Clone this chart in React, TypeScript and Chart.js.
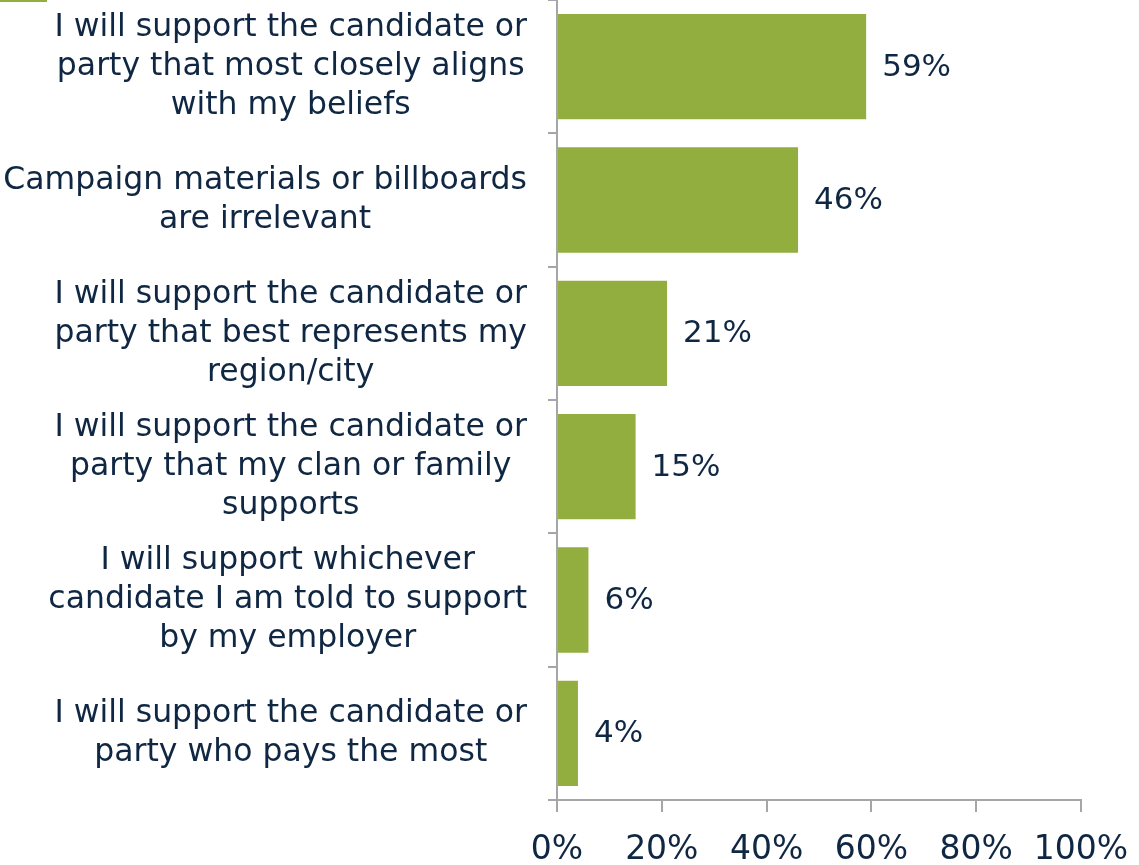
import React, { useEffect, useRef } from "react";
import { Chart, registerables } from "chart.js";

Chart.register(...registerables);

const categories: string[][] = [
  ["I will support the candidate or", "party that most closely aligns", "with my beliefs"],
  ["Campaign materials or billboards", "are irrelevant"],
  ["I will support the candidate or", "party that best represents my", "region/city"],
  ["I will support the candidate or", "party that my clan or family", "supports"],
  ["I will support whichever", "candidate I am told to support", "by my employer"],
  ["I will support the candidate or", "party who pays the most"],
];
const values: number[] = [59, 46, 21, 15, 6, 4];
const xTicks: number[] = [0, 20, 40, 60, 80, 100];

const BAR = "#92AE3F";
const TEXT = "#0F2742";
const AXIS = "#A6A6A6";
const FONT = "'DejaVu Sans', sans-serif";

const labelPlugin = {
  id: "customLabels",
  afterDraw(chart: any) {
    const ctx = chart.ctx;
    const yScale = chart.scales.y;
    const meta = chart.getDatasetMeta(0);
    ctx.save();
    // legend swatch remnant
    ctx.fillStyle = BAR;
    ctx.fillRect(0, 0, 47, 2);
    // category labels
    ctx.font = `31.5px ${FONT}`;
    ctx.fillStyle = TEXT;
    ctx.textAlign = "center";
    ctx.textBaseline = "middle";
    const rightEdge = 527;
    const lh = 39;
    categories.forEach((lines, i) => {
      const cy = yScale.getPixelForValue(i);
      const maxW = Math.max(...lines.map((l) => ctx.measureText(l).width));
      const cx = rightEdge - maxW / 2;
      const startY = cy - ((lines.length - 1) * lh) / 2;
      lines.forEach((l, j) => ctx.fillText(l, cx, startY + j * lh));
    });
    // value labels
    ctx.textAlign = "left";
    ctx.font = `31px ${FONT}`;
    meta.data.forEach((bar: any, i: number) => {
      ctx.fillText(values[i] + "%", bar.x + 16, bar.y + 1);
    });
    ctx.restore();
  },
};

export default function App() {
  const ref = useRef<HTMLCanvasElement | null>(null);
  useEffect(() => {
    const prevMargin = document.body.style.margin;
    document.body.style.margin = "0";
    const chart = new Chart(ref.current as HTMLCanvasElement, {
      type: "bar",
      data: {
        labels: categories.map((c) => c.join(" ")),
        datasets: [
          {
            data: values,
            backgroundColor: BAR,
            borderWidth: 0,
            barPercentage: 0.79,
            categoryPercentage: 1,
          },
        ],
      },
      options: {
        indexAxis: "y",
        animation: false,
        responsive: false,
        maintainAspectRatio: false,
        layout: { padding: { left: 0, right: 58, top: 0, bottom: 0 } },
        plugins: { legend: { display: false }, tooltip: { enabled: false } },
        scales: {
          x: {
            min: 0,
            max: 100,
            afterBuildTicks: (scale: any) => {
              scale.ticks = xTicks.map((v) => ({ value: v }));
            },
            afterFit: (scale: any) => {
              scale.height = 65;
              scale.paddingRight = 0;
              scale.paddingLeft = 0;
            },
            ticks: {
              callback: (v: any) => v + "%",
              font: { family: FONT, size: 33 },
              color: TEXT,
              padding: 19,
              maxRotation: 0,
            },
            grid: {
              drawOnChartArea: false,
              drawTicks: true,
              tickLength: 12,
              color: AXIS,
              lineWidth: 2,
            },
            border: { color: AXIS, width: 2 },
          },
          y: {
            afterFit: (scale: any) => {
              scale.width = 557;
            },
            ticks: { display: false },
            grid: {
              drawOnChartArea: false,
              drawTicks: true,
              tickLength: 9,
              offset: true,
              color: AXIS,
              lineWidth: 2,
            },
            border: { color: AXIS, width: 2 },
          },
        },
      },
      plugins: [labelPlugin],
    } as any);
    return () => {
      chart.destroy();
      document.body.style.margin = prevMargin;
    };
  }, []);
  return (
    <div style={{ width: 1139, height: 865, position: "relative" }}>
      <canvas ref={ref} width={1139} height={865} />
    </div>
  );
}
